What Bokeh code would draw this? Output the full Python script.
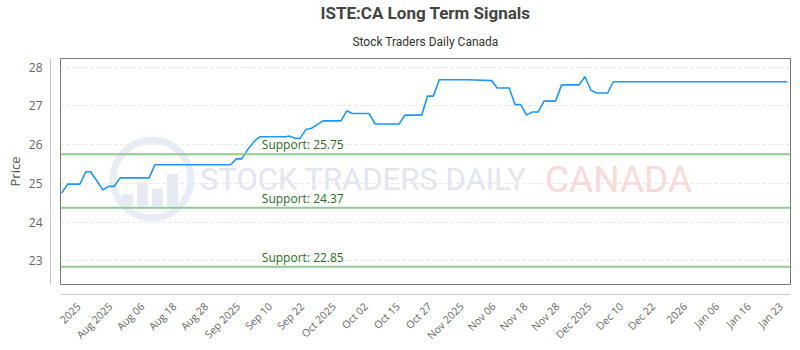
import math
from bokeh.plotting import figure
from bokeh.models import Range1d, FixedTicker, Span, Label, Title, LinearAxis
from bokeh.embed import file_html
from bokeh.resources import INLINE
from bokeh.core.properties import value

title_text = "ISTE:CA Long Term Signals"
subtitle_text = "Stock Traders Daily Canada"

tick_labels = ["2025", "Aug 2025", "Aug 06", "Aug 18", "Aug 28", "Sep 2025",
               "Sep 10", "Sep 22", "Oct 2025", "Oct 02", "Oct 15", "Oct 27",
               "Nov 2025", "Nov 06", "Nov 18", "Nov 28", "Dec 2025", "Dec 10",
               "Dec 22", "2026", "Jan 06", "Jan 16", "Jan 23"]
y_ticks = [23, 24, 25, 26, 27, 28]

# price path (x in tick-label units, y = price)
price_x = [-0.53, -0.34, 0.04, 0.23, 0.38, 0.76, 0.93, 1.11, 1.30, 2.21, 2.39,
           4.76, 4.94, 5.11, 5.32, 5.52, 5.68, 6.50, 6.59, 6.78, 6.94, 7.12, 7.30,
           7.65, 8.22, 8.40, 8.57, 9.10, 9.29, 10.04, 10.22, 10.75, 10.93, 11.11,
           11.30, 12.20, 12.94, 13.11, 13.49, 13.67, 13.85, 14.03, 14.21, 14.40,
           14.58, 14.94, 15.13, 15.68, 15.86, 16.05, 16.22, 16.57, 16.75, 22.20]
price_y = [24.75, 24.98, 24.98, 25.30, 25.30, 24.83, 24.92, 24.92, 25.14, 25.14, 25.48,
           25.48, 25.63, 25.63, 25.90, 26.10, 26.20, 26.20, 26.22, 26.16, 26.16, 26.39, 26.42,
           26.61, 26.61, 26.87, 26.80, 26.80, 26.53, 26.53, 26.76, 26.76, 27.25, 27.25,
           27.67, 27.67, 27.65, 27.46, 27.46, 27.03, 27.03, 26.76, 26.84, 26.84,
           27.12, 27.12, 27.54, 27.54, 27.75, 27.40, 27.33, 27.33, 27.62, 27.62]

support_levels = [25.75, 24.37, 22.85]
support_label_x = 5.74

p = figure(width=800, height=350, output_backend="svg", toolbar_location=None,
           title=None,
           x_range=Range1d(-0.567, 22.30), y_range=Range1d(22.39, 28.22),
           min_border_left=60, min_border_right=10, min_border_bottom=64,
           min_border_top=0)

sub = Title(text=subtitle_text, align="center", text_font="Roboto",
            text_font_size="12px", text_font_style="normal", text_color="#333333",
            standoff=20)
main = Title(text=title_text, align="center", text_font="Roboto",
             text_font_size="17px", text_font_style="bold", text_color="#444444",
             standoff=0)
p.add_layout(sub, "above")
p.add_layout(main, "above")

p.outline_line_color = "#777777"
p.outline_line_width = 1
p.background_fill_color = "white"
p.border_fill_color = "white"

# watermark
wm_light = "#e6eaf2"
p.scatter(x=[2.30], y=[25.11], marker="circle", size=78, fill_color=None,
          line_color="#e8ecf4", line_width=7)
p.quad(left=[1.36, 1.83, 2.30, 2.77], right=[1.71, 2.17, 2.64, 3.11],
       bottom=[24.41, 24.41, 24.41, 24.41], top=[24.72, 25.03, 24.86, 25.24],
       fill_color=wm_light, line_color=None)
p.text(x=[3.80], y=[25.09], text=["STOCK TRADERS DAILY"], text_font=value("Roboto"),
       text_font_size="31px", text_baseline="middle", text_align="left",
       text_color="#e2e6ef")
p.text(x=[14.61], y=[25.09], text=["CANADA"], text_font=value("Roboto"),
       text_font_size="37px", text_baseline="middle", text_align="left",
       text_color="#f9dada")

for lvl in support_levels:
    p.add_layout(Span(location=lvl, dimension="width", line_color="#93c993",
                      line_width=2))
    p.add_layout(Label(x=support_label_x, y=lvl, text="Support: %.2f" % lvl,
                       text_font="Open Sans", text_font_size="12px",
                       text_color="#2e6b2e", text_baseline="bottom", y_offset=1))

p.line(price_x, price_y, line_color="#2196f3", line_width=1.6)

# axes
p.xaxis.ticker = FixedTicker(ticks=list(range(len(tick_labels))))
p.xaxis.major_label_overrides = {i: t for i, t in enumerate(tick_labels)}
p.xaxis.major_label_orientation = math.pi / 4
p.yaxis.ticker = FixedTicker(ticks=y_ticks)
for ax in (p.xaxis, p.yaxis):
    ax.axis_line_color = "#c8c8c8"
    ax.axis_line_width = 1
    ax.major_tick_line_color = None
    ax.minor_tick_line_color = None
    ax.major_tick_out = 0
    ax.major_tick_in = 0
    ax.major_label_text_font = "Open Sans"
    ax.major_label_text_color = "#666666"
p.xaxis.major_label_text_font_size = "10.5px"
p.xaxis.major_label_standoff = 10
p.yaxis.major_label_text_font_size = "12px"
p.yaxis.major_label_standoff = 8
p.yaxis.axis_label = "Price"
p.yaxis.axis_label_text_font = "Open Sans"
p.yaxis.axis_label_text_font_style = "normal"
p.yaxis.axis_label_text_font_size = "13px"
p.yaxis.axis_label_text_color = "#555555"
p.yaxis.axis_label_standoff = 2

# spacer axes so that the axis lines sit 10px away from the plot box
def spacer(tick):
    a = LinearAxis(ticker=FixedTicker(ticks=[tick]), axis_line_color=None,
                   major_tick_line_color=None, minor_tick_line_color=None,
                   major_tick_out=10, major_tick_in=0, major_label_standoff=0,
                   major_label_overrides={tick: ""},
                   major_label_text_font_size="0px")
    return a

ylab_axis = p.left[0]
xlab_axis = p.below[0]
p.left = [spacer(y_ticks[0]), ylab_axis]
p.below = [spacer(0), xlab_axis]

p.xgrid.visible = False
p.ygrid.grid_line_color = "#e4e4e4"
p.ygrid.grid_line_dash = "3 3"

open("out.html", "w").write(file_html(p, INLINE))
